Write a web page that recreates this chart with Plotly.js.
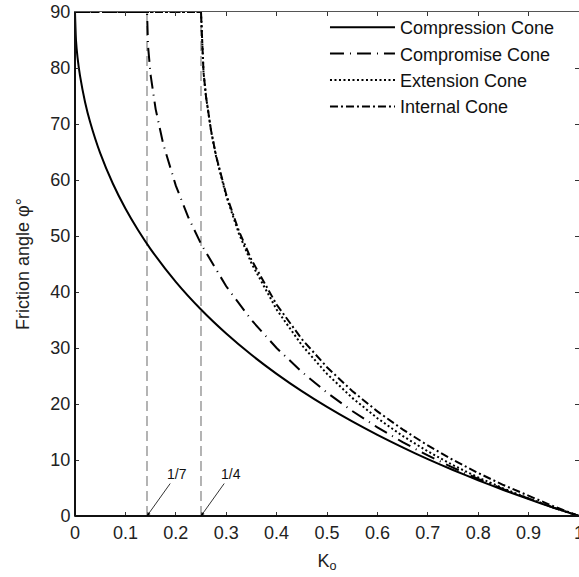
<!DOCTYPE html>
<html><head><meta charset="utf-8">
<script src="https://cdn.plot.ly/plotly-3.0.1.min.js"></script>
<style>html,body{margin:0;padding:0;background:#fff}#chart{width:579px;height:577px}</style>
</head><body><div id="chart"></div>
<script>
// Data
const seriesNames = ["Compression Cone", "Compromise Cone", "Extension Cone", "Internal Cone"];

const compressionK   = [0, 0.002, 0.005, 0.01, 0.02, 0.03, 0.05, 0.075, 0.1, 0.125, 0.15, 0.2, 0.25, 0.3, 0.35, 0.4, 0.45, 0.5, 0.55, 0.6, 0.65, 0.7, 0.75, 0.8, 0.85, 0.9, 0.95, 1.0];
const compressionPhi = [90, 84.88, 81.91, 78.58, 73.90, 70.35, 64.79, 59.37, 54.90, 51.06, 47.66, 41.81, 36.87, 32.58, 28.78, 25.38, 22.29, 19.47, 16.88, 14.48, 12.25, 10.16, 8.21, 6.38, 4.65, 3.02, 1.47, 0];

const compromiseK   = [0, 0.1429, 0.145, 0.15, 0.16, 0.175, 0.2, 0.225, 0.25, 0.3, 0.35, 0.4, 0.45, 0.5, 0.55, 0.6, 0.65, 0.7, 0.75, 0.8, 0.85, 0.9, 0.95, 1.0];
const compromisePhi = [90, 90, 83.82, 78.75, 72.66, 66.44, 58.99, 53.30, 48.59, 41.02, 35.00, 30.00, 25.74, 22.02, 18.75, 15.83, 13.19, 10.81, 8.63, 6.63, 4.78, 3.07, 1.48, 0];

const extensionK   = [0, 0.25, 0.255, 0.26, 0.27, 0.28, 0.3, 0.325, 0.35, 0.4, 0.45, 0.5, 0.55, 0.6, 0.65, 0.7, 0.75, 0.8, 0.85, 0.9, 0.95, 1.0];
const extensionPhi = [90, 90, 79.24, 74.84, 68.74, 64.16, 57.14, 50.48, 45.16, 36.87, 30.51, 25.38, 21.10, 17.46, 14.30, 11.54, 9.08, 6.89, 4.92, 3.13, 1.49, 0];

const internalK   = [0, 0.25, 0.255, 0.26, 0.27, 0.28, 0.3, 0.325, 0.35, 0.4, 0.45, 0.5, 0.55, 0.6, 0.65, 0.7, 0.75, 0.8, 0.85, 0.9, 0.95, 1.0];
const internalPhi = [90, 90, 79.25, 74.86, 68.82, 64.30, 57.43, 50.94, 45.78, 37.76, 31.59, 26.57, 22.33, 18.68, 15.47, 12.60, 10.02, 7.68, 5.53, 3.55, 1.71, 0];

const markerK = [1/7, 1/4];
const markerLabels = ["1/7", "1/4"];
const markerRange = [0, 90];

const xTickVals = [0, 0.1, 0.2, 0.3, 0.4, 0.5, 0.6, 0.7, 0.8, 0.9, 1];
const xTickText = ["0", "0.1", "0.2", "0.3", "0.4", "0.5", "0.6", "0.7", "0.8", "0.9", "1"];
const yTickVals = [0, 10, 20, 30, 40, 50, 60, 70, 80, 90];

const FONT = "Liberation Sans, Arial, Helvetica, sans-serif";

const traces = [];
markerK.forEach(k => {
  traces.push({x: [k, k], y: markerRange, mode: "lines", showlegend: false, hoverinfo: "skip",
    line: {color: "#8c8c8c", width: 1.3, dash: "10px,5px"}});
});
traces.push({x: compressionK, y: compressionPhi, name: seriesNames[0], mode: "lines",
  line: {color: "#000", width: 2, shape: "spline", smoothing: 0.6}});
traces.push({x: compromiseK, y: compromisePhi, name: seriesNames[1], mode: "lines",
  line: {color: "#000", width: 2, dash: "14px,6px,1px,6px"}});
traces.push({x: extensionK, y: extensionPhi, name: seriesNames[2], mode: "lines",
  line: {color: "#000", width: 2, dash: "2px,2.5px"}});
traces.push({x: internalK, y: internalPhi, name: seriesNames[3], mode: "lines",
  line: {color: "#000", width: 2, dash: "8px,3px,2px,3px"}});

const annotations = markerK.map((k, i) => ({
  x: k, y: 0, xref: "x", yref: "y", text: markerLabels[i], showarrow: true,
  ax: 30, ay: -42, arrowhead: 2, arrowsize: 0.9, arrowwidth: 0.8, arrowcolor: "#000",
  font: {family: FONT, size: 14, color: "#111"}
}));

const layout = {
  width: 579, height: 577,
  margin: {l: 75, r: 0, t: 12, b: 61},
  paper_bgcolor: "#fff", plot_bgcolor: "#fff",
  font: {family: FONT, size: 18, color: "#222"},
  showlegend: true,
  legend: {x: 0.496, y: 1.006, xanchor: "left", yanchor: "top", bgcolor: "rgba(0,0,0,0)",
    itemwidth: 65, font: {family: FONT, size: 18, color: "#111"}, tracegroupgap: 0},
  xaxis: {range: [0, 1], tickvals: xTickVals, ticktext: xTickText, ticks: "inside", ticklen: 4,
    tickcolor: "#333", showline: true, linecolor: "#555", linewidth: 1, mirror: "ticks",
    ticklabeloverflow: "allow",
    showgrid: false, zeroline: false, tickfont: {family: FONT, size: 18, color: "#222"},
    title: {text: "K<sub>o</sub>", font: {family: FONT, size: 18, color: "#222"}, standoff: 12}},
  yaxis: {range: [0, 90], tickvals: yTickVals, ticks: "inside", ticklen: 4,
    tickcolor: "#333", showline: true, linecolor: "#555", linewidth: 1, mirror: "ticks",
    ticklabeloverflow: "allow",
    showgrid: false, zeroline: false, tickfont: {family: FONT, size: 18, color: "#222"},
    title: {text: "Friction angle \u03c6\u00b0", font: {family: FONT, size: 18, color: "#222"}, standoff: 16}},
  annotations: annotations,
  shapes: [
    {type: "line", xref: "paper", yref: "paper", x0: 0, x1: 1, y0: 0, y1: 0, line: {color: "#111", width: 2}},
    {type: "line", xref: "paper", yref: "paper", x0: 0, x1: 0, y0: 0, y1: 1, line: {color: "#111", width: 2}}
  ]
};

Plotly.newPlot("chart", traces, layout, {displayModeBar: false, staticPlot: true});
</script></body></html>
